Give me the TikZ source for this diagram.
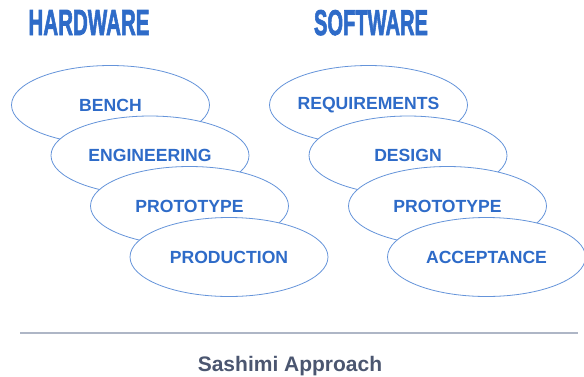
\documentclass[tikz,border=0pt]{standalone}
\usepackage{fontspec}
\setmainfont{Liberation Sans}
\newfontfamily\titlefont[FakeBold=2.5]{Liberation Sans Bold}
\usepackage{graphicx}
\definecolor{txtblue}{HTML}{2E6BC8}
\definecolor{lineblue}{HTML}{6594DA}
\definecolor{ruleg}{HTML}{AEB6C6}
\definecolor{capg}{HTML}{4B5670}
\tikzset{
  ellbox/.style={ellipse, draw=lineblue, line width=0.8pt, fill=white, minimum width=198pt, minimum height=79pt, inner sep=0pt, text=txtblue, font=\fontsize{17.6}{20}\selectfont\bfseries},
  titlebox/.style={text=txtblue, inner sep=0pt, anchor=base},
}
\usetikzlibrary{shapes.geometric}
\begin{document}
\begin{tikzpicture}[x=1pt,y=-1pt]
\useasboundingbox (0,0) rectangle (584,376);
\node[titlebox] (hw) at (89,35) {\resizebox{121pt}{25pt}{\titlefont HARDWARE}};
\node[titlebox] (sw) at (371,35) {\resizebox{114pt}{25pt}{\titlefont SOFTWARE}};
% hardware
\node[ellbox] (h1) at (110.5,105) {\makebox[0pt]{BENCH}};
\node[ellbox] (h2) at (150,155.5) {\makebox[0pt]{ENGINEERING}};
\node[ellbox] (h3) at (189.5,206) {\makebox[0pt]{PROTOTYPE}};
\node[ellbox] (h4) at (229,257) {\makebox[0pt]{PRODUCTION}};
% software
\node[ellbox] (s1) at (368.5,105) {\makebox[0pt]{REQUIREMENTS}};
\node[ellbox] (s2) at (408,155.5) {\makebox[0pt]{DESIGN}};
\node[ellbox] (s3) at (447.5,206) {\makebox[0pt]{PROTOTYPE}};
\node[ellbox] (s4) at (486.5,257) {\makebox[0pt]{ACCEPTANCE}};
% rule and caption
\coordinate (rl) at (20,333);
\coordinate (rr) at (578,333);
\draw[ruleg, line width=1.3pt] (rl) -- (rr);
\node[text=capg, font=\fontsize{21}{24}\selectfont\bfseries, anchor=base] (cap) at (290,371) {Sashimi Approach};
\end{tikzpicture}
\end{document}
